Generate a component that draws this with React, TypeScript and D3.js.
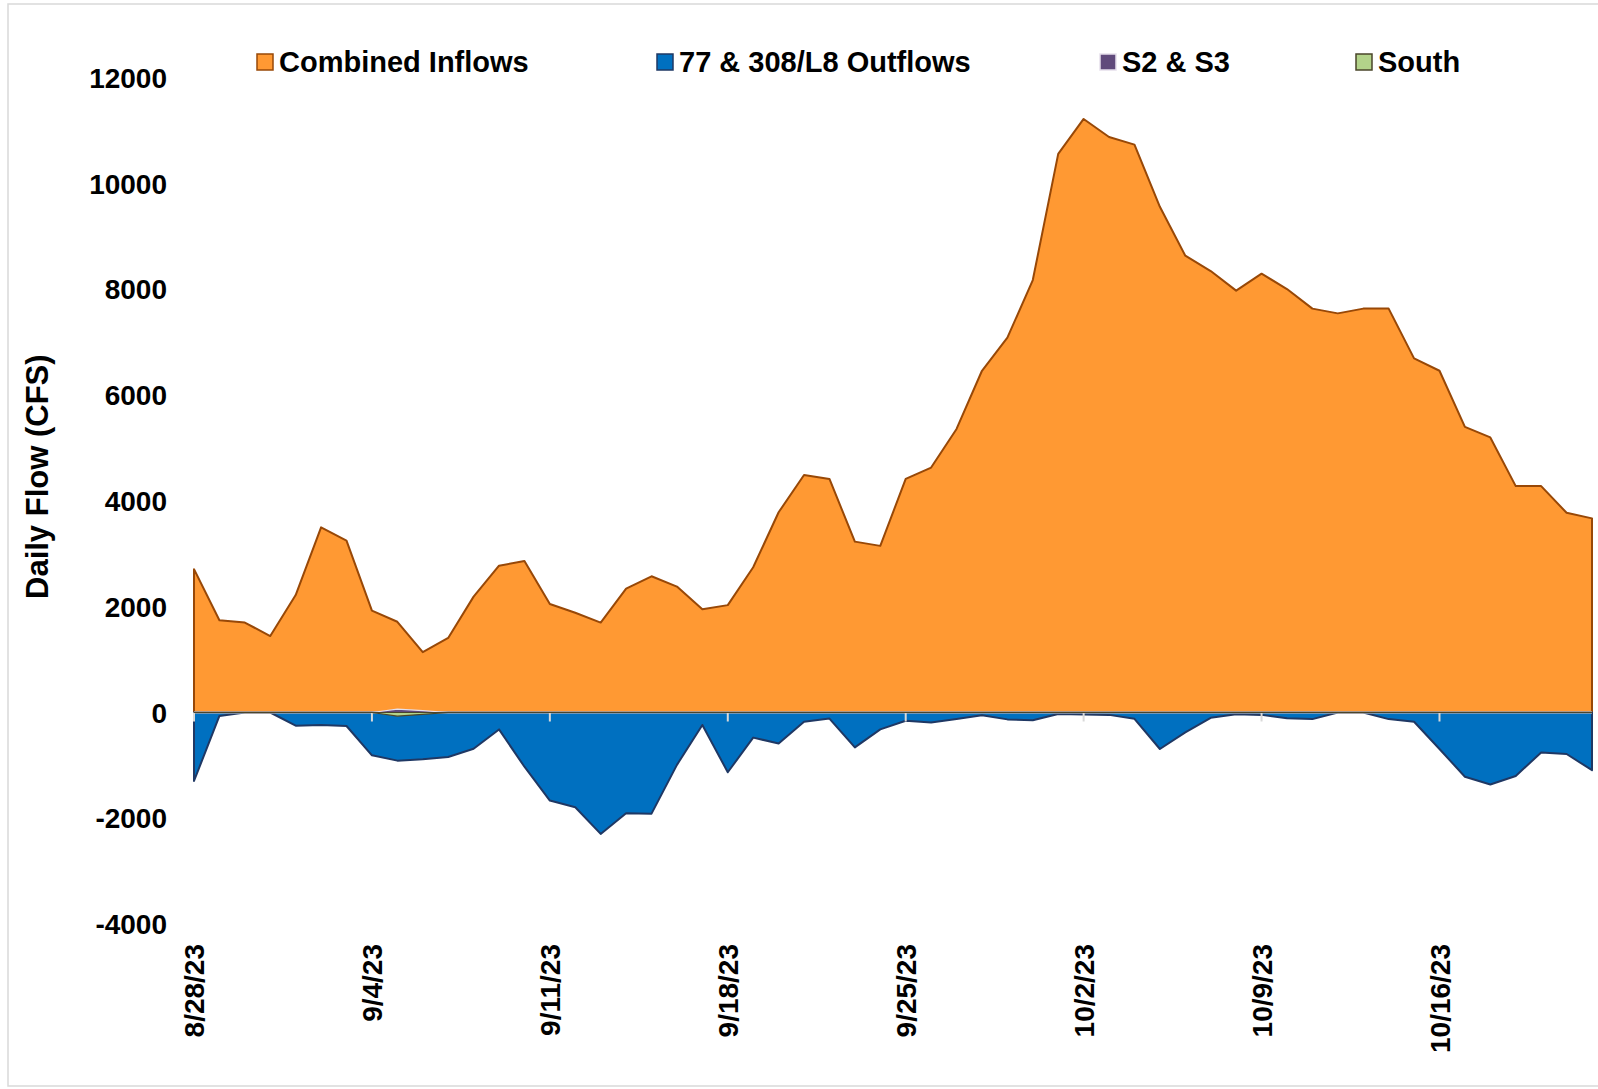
import React from 'react';
import * as d3 from 'd3';

// daily values, 8/28/23 .. 10/22/23
const startDate = new Date(Date.UTC(2023, 7, 28));
const endDate = new Date(Date.UTC(2023, 9, 22));

const inflows = [2710, 1745, 1700, 1445, 2220, 3500, 3250, 1925, 1715, 1140,
  1410, 2190, 2775, 2865, 2050, 1885, 1700, 2340, 2575, 2380,
  1950, 2030, 2745, 3785, 4490, 4415, 3230, 3150, 4415, 4630,
  5360, 6460, 7085, 8175, 10560, 11220, 10880, 10735, 9560, 8635,
  8345, 7975, 8295, 8005, 7635, 7545, 7635, 7635, 6695, 6460,
  5400, 5200, 4280, 4280, 3775, 3670];

const outflows = [-1295, -65, 0, 0, -250, -235, -255, -810, -910, -885,
  -840, -685, -320, -1025, -1665, -1790, -2295, -1905, -1912, -990,
  -235, -1130, -475, -585, -175, -115, -660, -320, -155, -190,
  -125, -50, -130, -145, -30, -40, -45, -120, -690, -375,
  -100, -35, -45, -110, -125, 0, 0, -125, -175, -690,
  -1215, -1360, -1200, -755, -785, -1090];

const s2s3 = [0, 0, 0, 0, 0, 0, 0, 0, 65, 35,
  0, 0, 0, 0, 0, 0, 0, 0, 0, 0,
  0, 0, 0, 0, 0, 0, 0, 0, 0, 0,
  0, 0, 0, 0, 0, 0, 0, 0, 0, 0,
  0, 0, 0, 0, 0, 0, 0, 0, 0, 0,
  0, 0, 0, 0, 0, 0];

const south = [0, 0, 0, 0, 0, 0, 0, 0, -70, -35,
  0, 0, 0, 0, 0, 0, 0, 0, 0, 0,
  0, 0, 0, 0, 0, 0, 0, 0, 0, 0,
  0, 0, 0, 0, 0, 0, 0, 0, 0, 0,
  0, 0, 0, 0, 0, 0, 0, 0, 0, 0,
  0, 0, 0, 0, 0, 0];

// weekly tick labels, one per Monday from the first day
const tickLabels = ['8/28/23', '9/4/23', '9/11/23', '9/18/23', '9/25/23', '10/2/23', '10/9/23', '10/16/23'];
const yTicks = [-4000, -2000, 0, 2000, 4000, 6000, 8000, 10000, 12000];

const seriesNames = ['Combined Inflows', '77 & 308/L8 Outflows', 'S2 & S3', 'South'];
const seriesFills = ['#FF9933', '#0070C0', '#604A7B', '#B3D38A'];
const seriesStrokes = ['#984807', '#1F3864', '#E6E0EC', '#4A452A'];

const W = 1598, H = 1089;
const FONT = '"Liberation Sans", Arial, sans-serif';

export default function App() {
  const dates = d3.utcDay.range(startDate, d3.utcDay.offset(endDate, 1));
  const x = d3.scaleUtc().domain([startDate, endDate]).range([194, 1592]);
  const y = d3.scaleLinear().domain([-4000, 12000]).range([924.1, 77.7]);
  const y0 = y(0);
  const tickDates = tickLabels.map((_, i) => d3.utcDay.offset(startDate, 7 * i));

  const area = d3.area<number>()
    .x((d, i) => x(dates[i]))
    .y0(y0)
    .y1(d => y(d));

  const series = [inflows, outflows, s2s3, south];
  const legendX = [257, 657, 1100, 1356];

  return (
    <svg width={W} height={H} style={{ position: 'absolute', left: 0, top: 0, background: '#fff' }}
      fontFamily={FONT} fontWeight="bold">
      <rect x={8} y={4} width={1600} height={1082} fill="#fff" stroke="#D9D9D9" strokeWidth={1.5} />

      {series.slice(0, 2).map((s, k) => (
        <path key={k} d={area(s) || ''} fill={seriesFills[k]} stroke={seriesStrokes[k]} strokeWidth={2} strokeLinejoin="round" />
      ))}

      <line x1={x(startDate)} x2={x(endDate)} y1={y0} y2={y0} stroke="#D9D9D9" strokeWidth={2} />
      {tickDates.map((d, i) => (
        <line key={i} x1={x(d)} x2={x(d)} y1={y0} y2={y0 + 9} stroke="#D9D9D9" strokeWidth={2} />
      ))}

      {series.slice(2).map((s, k) => (
        <path key={k} d={area(s) || ''} fill={seriesFills[k + 2]} stroke={seriesStrokes[k + 2]} strokeWidth={1.2} />
      ))}

      {yTicks.map(v => (
        <text key={v} x={167} y={y(v)} dy="0.36em" textAnchor="end" fontSize={28} fill="#000">{v}</text>
      ))}

      {tickDates.map((d, i) => (
        <text key={i} transform={`translate(${x(d)},944) rotate(-90)`} dy="0.36em" textAnchor="end" fontSize={28} fill="#000">
          {tickLabels[i]}
        </text>
      ))}

      <text transform="translate(36.7,476.7) rotate(-90)" dy="0.36em" textAnchor="middle" fontSize={31} fill="#000">
        Daily Flow (CFS)
      </text>

      {seriesNames.map((name, k) => (
        <g key={name}>
          <rect x={legendX[k]} y={54} width={16} height={16} fill={seriesFills[k]} stroke={seriesStrokes[k]} strokeWidth={1.5} />
          <text x={legendX[k] + 22} y={71.7} fontSize={29} fill="#000">{name}</text>
        </g>
      ))}
    </svg>
  );
}
